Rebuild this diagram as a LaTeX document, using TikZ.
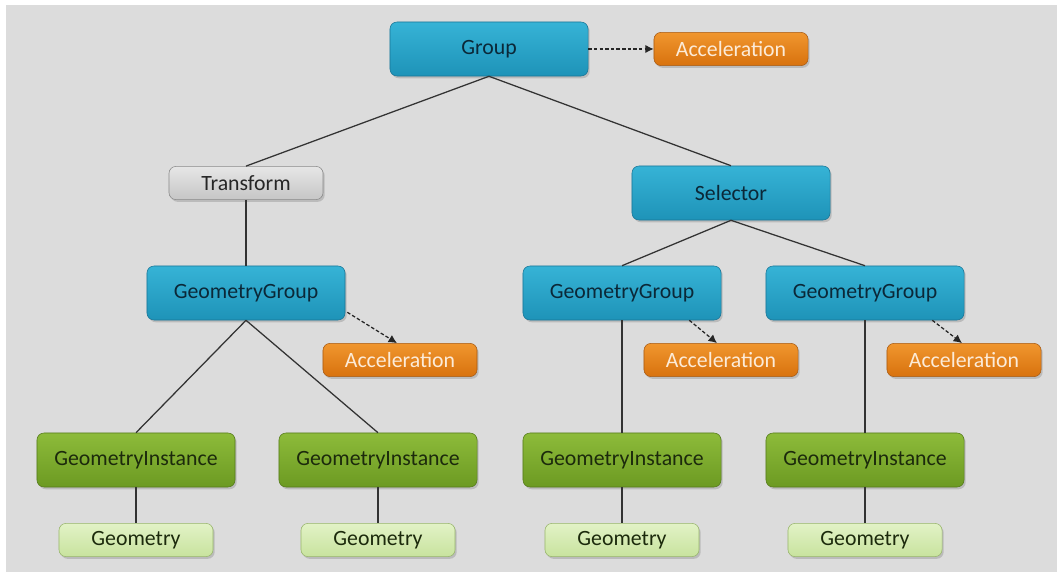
\documentclass[tikz,border=0pt]{standalone}
\usepackage{fontspec}
\setmainfont{Carlito}
\usetikzlibrary{calc,shadows,arrows.meta}
\definecolor{bgray}{HTML}{DCDCDC}
\definecolor{bluetop}{HTML}{36B3D6}
\definecolor{bluebot}{HTML}{1E93B8}
\definecolor{blueline}{HTML}{1A7596}
\definecolor{bluetext}{HTML}{0B2838}
\definecolor{orgtop}{HTML}{F0962E}
\definecolor{orgbot}{HTML}{D8720E}
\definecolor{orgline}{HTML}{A85A12}
\definecolor{orgtext}{HTML}{FCEBD8}
\definecolor{grntop}{HTML}{8DBB3A}
\definecolor{grnbot}{HTML}{6C9A22}
\definecolor{grnline}{HTML}{557A1C}
\definecolor{grntext}{HTML}{1C2A0C}
\definecolor{lgrtop}{HTML}{E2F2C6}
\definecolor{lgrbot}{HTML}{C8E39E}
\definecolor{lgrline}{HTML}{98B56C}
\definecolor{grytop}{HTML}{E6E6E6}
\definecolor{grybot}{HTML}{C6C6C6}
\definecolor{gryline}{HTML}{8A8A8A}

\begin{document}
\begin{tikzpicture}[x=0.025cm,y=-0.025cm,
  box/.style={rounded corners=5pt,inner sep=0pt,font=\fontsize{15.5}{18}\selectfont,
    drop shadow={shadow xshift=1.2pt,shadow yshift=-1.6pt,opacity=.35}},
  bigbox/.style={box,minimum width=4.95cm,minimum height=1.35cm},
  smallbox/.style={box,minimum width=3.85cm,minimum height=0.83cm},
  grp/.style={bigbox,top color=bluetop,bottom color=bluebot,draw=blueline,text=bluetext},
  accel/.style={smallbox,top color=orgtop,bottom color=orgbot,draw=orgline,text=orgtext},
  xform/.style={smallbox,top color=grytop,bottom color=grybot,draw=gryline,text=black!85},
  inst/.style={bigbox,top color=grntop,bottom color=grnbot,draw=grnline,text=grntext},
  geom/.style={smallbox,top color=lgrtop,bottom color=lgrbot,draw=lgrline,text=grntext},
  link/.style={draw=black!80,line width=0.9pt},
  accarrow/.style={draw=black!85,line width=0.9pt,dash pattern=on 2.5pt off 1.5pt,-{Latex[length=6pt,width=6pt]}}]
\useasboundingbox (0,0) rectangle (1057,577);
\fill[white] (0,0) rectangle (1057,577);
\fill[bgray] (6,5) rectangle (1057,572);

% top level
\node[grp] (group) at (489,49) {Group};
\node[accel] (acc0) at (731,49) {Acceleration};
\node[xform] (xform) at (246,183) {Transform};
\node[grp] (sel) at (731,193) {Selector};

% geometry groups
\node[grp] (gg1) at (246,293) {GeometryGroup};
\node[grp] (gg2) at (622,293) {GeometryGroup};
\node[grp] (gg3) at (865,293) {GeometryGroup};
\node[accel] (acc1) at (400,360) {Acceleration};
\node[accel] (acc2) at (721,360) {Acceleration};
\node[accel] (acc3) at (964,360) {Acceleration};

% instances and geometries
\foreach \i/\x in {1/136,2/378,3/622,4/865}{
  \node[inst] (gi\i) at (\x,460) {GeometryInstance};
  \node[geom] (geo\i) at (\x,540) {Geometry};
}

\draw[link] (group.south) -- (xform.north);
\draw[link] (group.south) -- (sel.north);
\draw[link] (xform.south) -- (gg1.north);
\draw[link] (sel.south) -- (gg2.north);
\draw[link] (sel.south) -- (gg3.north);
\draw[link] (gg1.south) -- (gi1.north);
\draw[link] (gg1.south) -- (gi2.north);
\draw[link] (gg2.south) -- (gi3.north);
\draw[link] (gg3.south) -- (gi4.north);
\foreach \i in {1,2,3,4}
  \draw[link] (gi\i.south) -- (geo\i.north);

\draw[accarrow] (group.east) -- (acc0.west);
\draw[accarrow] ($(gg1.south east)+(2,-8)$) -- ($(acc1.north)+(-3,0)$);
\draw[accarrow] ($(gg2.south east)+(-32,0)$) -- ($(acc2.north)+(-4,0)$);
\draw[accarrow] ($(gg3.south east)+(-32,0)$) -- ($(acc3.north)+(-2,0)$);
\end{tikzpicture}
\end{document}
